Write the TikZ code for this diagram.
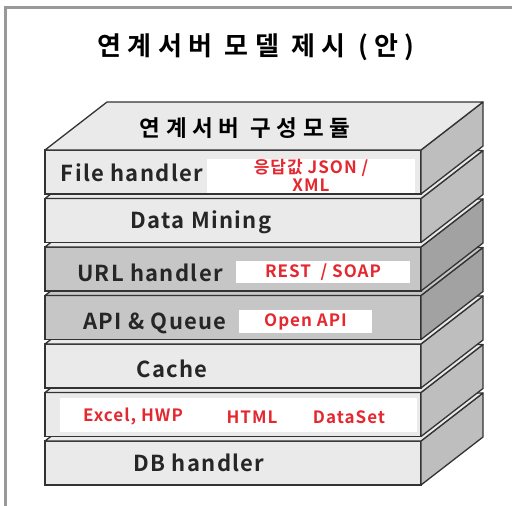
\documentclass[tikz,border=0pt]{standalone}
\usepackage{fontspec}
\setmainfont{Noto Sans CJK KR}[BoldFont={Noto Sans CJK KR Bold}]
\newfontfamily\spacedfont{Noto Sans CJK KR Bold}[LetterSpace=25]
\newfontfamily\namefont{Noto Sans CJK KR Bold}[LetterSpace=6]
\definecolor{labelred}{RGB}{228,40,48}
\definecolor{faceLight}{RGB}{234,234,234}
\definecolor{faceDark}{RGB}{198,198,198}
\definecolor{sideLight}{RGB}{190,190,190}
\definecolor{sideDark}{RGB}{162,162,162}

\begin{document}
\begin{tikzpicture}[x=1pt, y=-1pt,
    slab/.style={draw=black!80, line width=1.3pt, rectangle, inner sep=0pt, outer sep=0pt, minimum width=376pt, minimum height=44pt},
    side/.style={draw=black!80, line width=1.3pt, line join=round},
    whitebox/.style={fill=white, rectangle, inner sep=0pt, outer sep=0pt},
    layername/.style={font=\namefont\fontsize{22}{25}\selectfont, text=black!85},
    tag/.style={font=\namefont\fontsize{17}{19}\selectfont, text=labelred, align=center}]

    \useasboundingbox (0,0) rectangle (512,506);
    \draw[black!40, line width=3pt] (5,506) -- (5,7) -- (512,7);

    \node[font=\spacedfont\fontsize{26}{30}\selectfont] (title) at (256,47) {연계서버 모델 제시 (안)};

    % stack, bottom layer first
    \node[slab, fill=faceLight] (db) at (233,463) {};
    \filldraw[side, fill=sideLight] (db.north east) -- ++(62,-48) -- ++(0,44) -- (db.south east) -- cycle;
    \filldraw[side, fill=faceLight] (db.north west) -- ++(62,-48) -- ++(376,0) -- (db.north east) -- cycle;

    \node[slab, fill=faceLight] (format) at (233,414.5) {};
    \filldraw[side, fill=sideLight] (format.north east) -- ++(62,-48) -- ++(0,44) -- (format.south east) -- cycle;
    \filldraw[side, fill=faceLight] (format.north west) -- ++(62,-48) -- ++(376,0) -- (format.north east) -- cycle;

    \node[slab, fill=faceLight] (cache) at (233,366) {};
    \filldraw[side, fill=sideLight] (cache.north east) -- ++(62,-48) -- ++(0,44) -- (cache.south east) -- cycle;
    \filldraw[side, fill=faceLight] (cache.north west) -- ++(62,-48) -- ++(376,0) -- (cache.north east) -- cycle;

    \node[slab, fill=faceDark] (api) at (233,317.5) {};
    \filldraw[side, fill=sideDark] (api.north east) -- ++(62,-48) -- ++(0,44) -- (api.south east) -- cycle;
    \filldraw[side, fill=faceDark] (api.north west) -- ++(62,-48) -- ++(376,0) -- (api.north east) -- cycle;

    \node[slab, fill=faceDark] (url) at (233,269) {};
    \filldraw[side, fill=sideDark] (url.north east) -- ++(62,-48) -- ++(0,44) -- (url.south east) -- cycle;
    \filldraw[side, fill=faceLight] (url.north west) -- ++(62,-48) -- ++(376,0) -- (url.north east) -- cycle;

    \node[slab, fill=faceLight] (mining) at (233,220.5) {};
    \filldraw[side, fill=sideLight] (mining.north east) -- ++(62,-48) -- ++(0,44) -- (mining.south east) -- cycle;
    \filldraw[side, fill=faceLight] (mining.north west) -- ++(62,-48) -- ++(376,0) -- (mining.north east) -- cycle;

    \node[slab, fill=faceLight] (file) at (233,172) {};
    \filldraw[side, fill=sideLight] (file.north east) -- ++(62,-48) -- ++(0,44) -- (file.south east) -- cycle;
    \filldraw[side, fill=faceLight] (file.north west) -- ++(62,-48) -- ++(376,0) -- (file.north east) -- cycle;

    % texts
    \node[font=\spacedfont\fontsize{22.5}{26}\selectfont] (module) at (245,128) {연계서버 구성모듈};

    \node[layername] (filename) at (132,173) {File handler};
    \node[whitebox, minimum width=208pt, minimum height=34pt] (filetag) at (311,176) {};
    \node[tag, font=\namefont\fontsize{17}{17}\selectfont] (filetext) at (311,175.5) {응답값 JSON /\\[1pt]XML};

    \node[layername] (miningname) at (201,222) {Data Mining};

    \node[layername] (urlname) at (150,273) {URL handler};
    \node[whitebox, minimum width=174pt, minimum height=22pt, tag] (urltag) at (323,272) {REST~~/ SOAP};

    \node[layername] (apiname) at (155,323) {API \& Queue};
    \node[whitebox, minimum width=133pt, minimum height=23pt, tag] (apitag) at (305.5,321.5) {Open API};

    \node[layername] (cachename) at (172,369) {Cache};

    \node[whitebox, minimum width=357pt, minimum height=34pt] (formattag) at (238.5,415) {};
    \node[tag] (excel) at (133,417) {Excel, HWP};
    \node[tag] (html) at (252,417) {HTML};
    \node[tag] (dataset) at (349,417) {DataSet};

    \node[layername] (dbname) at (199,463) {DB handler};
\end{tikzpicture}
\end{document}
